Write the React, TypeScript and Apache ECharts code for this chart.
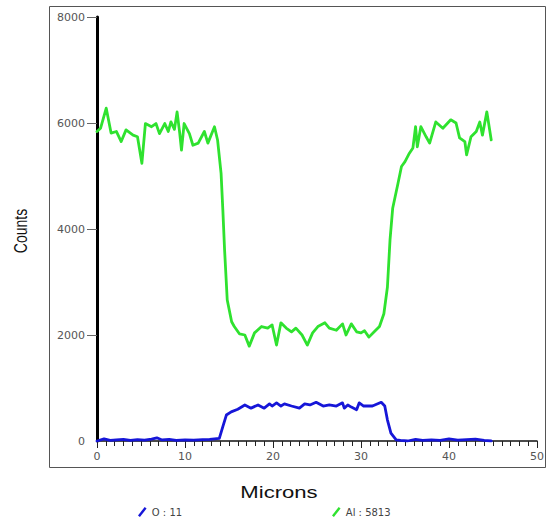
import React, { useEffect, useRef } from "react";
import * as echarts from "echarts";

const xTicks = [0, 10, 20, 30, 40, 50];
const yTicks = [0, 2000, 4000, 6000, 8000];

const alName = "Al : 5813";
const oName = "O : 11";

const alX = [0.0, 0.4, 1.05, 1.6, 2.2, 2.75, 3.3, 4.1, 4.6, 5.1, 5.5, 6.2, 6.7, 7.1, 7.7, 8.1, 8.4, 8.8, 9.1, 9.4, 9.6, 9.9, 10.5, 10.9, 11.5, 12.2, 12.6, 13.35, 13.7, 14.1, 14.3, 14.5, 14.8, 15.3, 15.6, 16.2, 16.8, 17.3, 17.9, 18.7, 19.4, 19.9, 20.4, 20.9, 21.5, 22.1, 22.6, 23.3, 23.9, 24.5, 25.1, 25.9, 26.4, 27.2, 27.9, 28.3, 28.9, 29.5, 30.0, 30.4, 30.9, 31.5, 32.1, 32.6, 33.0, 33.3, 33.6, 34.2, 34.6, 35.0, 35.5, 35.9, 36.2, 36.4, 36.8, 37.4, 37.8, 38.5, 39.3, 40.2, 40.8, 41.2, 41.8, 42.0, 42.5, 43.1, 43.5, 43.8, 44.3, 44.8];
const alY = [5840, 5900, 6280, 5810, 5840, 5650, 5870, 5770, 5740, 5240, 5990, 5930, 5990, 5800, 5990, 5840, 6020, 5880, 6210, 5810, 5490, 5990, 5800, 5580, 5620, 5840, 5620, 5930, 5680, 5050, 4360, 3600, 2660, 2250, 2160, 2020, 2000, 1790, 2040, 2160, 2130, 2190, 1810, 2230, 2130, 2060, 2130, 2000, 1810, 2040, 2160, 2230, 2130, 2090, 2210, 2000, 2210, 2060, 2040, 2080, 1960, 2060, 2160, 2400, 2900, 3800, 4390, 4860, 5180, 5270, 5430, 5530, 5930, 5550, 5930, 5740, 5620, 6020, 5900, 6060, 6000, 5720, 5650, 5400, 5740, 5840, 6020, 5770, 6210, 5680];

const oX = [0.0, 0.8, 1.5, 2.2, 3.0, 3.8, 4.6, 5.4, 6.2, 6.8, 7.4, 8.2, 9.0, 10.0, 11.0, 12.0, 12.8, 13.9, 14.3, 14.7, 15.25, 16.0, 16.8, 17.5, 18.3, 19.0, 19.6, 19.9, 20.4, 20.9, 21.3, 22.1, 23.0, 23.6, 24.2, 24.9, 25.7, 26.4, 27.2, 27.9, 28.1, 28.5, 28.9, 29.5, 29.8, 30.3, 31.3, 32.3, 32.7, 33.0, 33.4, 34.0, 34.5, 35.3, 36.2, 37.0, 38.0, 39.0, 40.0, 41.0, 42.0, 43.0, 44.0, 44.8];
const oY = [0, 40, 10, 20, 30, 10, 25, 15, 35, 60, 20, 30, 10, 20, 15, 25, 30, 50, 270, 490, 550, 600, 680, 620, 680, 620, 700, 660, 720, 660, 700, 660, 620, 700, 680, 730, 660, 680, 660, 720, 620, 680, 640, 590, 720, 660, 660, 730, 660, 400, 150, 20, 10, 0, 30, 10, 20, 10, 40, 15, 25, 35, 10, 0];

const pairs = (xs: number[], ys: number[]) => xs.map((x, i) => [x, ys[i]]);

const legendIcon = "path://M0,9L7,0L9,1.5L2,10.5Z";

export default function App() {
  const ref = useRef<HTMLDivElement>(null);
  useEffect(() => {
    if (!ref.current) return;
    const chart = echarts.init(ref.current, null, { renderer: "svg" });
    const labelStyle = { color: "#555", fontSize: 11, fontFamily: "DejaVu Sans" };
    const legendText = { color: "#444", fontSize: 10, fontFamily: "DejaVu Sans" };
    chart.setOption({
      animation: false,
      backgroundColor: "#ffffff",
      grid: { left: 97, right: 12, top: 17, bottom: 81, containLabel: false },
      xAxis: {
        type: "value",
        min: xTicks[0],
        max: xTicks[xTicks.length - 1],
        interval: 10,
        axisLine: { show: true, onZero: false, lineStyle: { color: "#111", width: 1.5 } },
        axisTick: { show: true, inside: false, length: 7, lineStyle: { color: "#222", width: 1 } },
        minorTick: { show: true, splitNumber: 10, length: 5, lineStyle: { color: "#222", width: 1 } },
        axisLabel: { ...labelStyle, margin: 10, formatter: (v: number) => String(v) },
        splitLine: { show: false },
      },
      yAxis: {
        type: "value",
        min: yTicks[0],
        max: yTicks[yTicks.length - 1],
        interval: 2000,
        axisLine: { show: true, onZero: false, lineStyle: { color: "#000", width: 3 } },
        axisTick: { show: true, length: 10, customValues: yTicks.slice(1), lineStyle: { color: "#666", width: 1 } },
        axisLabel: { ...labelStyle, margin: 12, formatter: (v: number) => String(v) },
        splitLine: { show: false },
      },
      legend: [
        {
          data: [{ name: oName, icon: legendIcon, textStyle: legendText }],
          left: 133,
          top: 502,
          itemWidth: 9,
          itemHeight: 10,
          itemGap: 4,
          textStyle: legendText,
        },
        {
          data: [{ name: alName, icon: legendIcon, textStyle: legendText }],
          left: 327,
          top: 502,
          itemWidth: 9,
          itemHeight: 10,
          itemGap: 4,
          textStyle: legendText,
        },
      ],
      graphic: [
        {
          type: "rect",
          shape: { x: 49.5, y: 6.5, width: 496, height: 461 },
          style: { fill: "none", stroke: "#555", lineWidth: 1 },
          silent: true,
        },
        {
          type: "text",
          x: 279,
          y: 492,
          scaleX: 1.3,
          style: {
            text: "Microns",
            fontSize: 17,
            fontFamily: "Liberation Sans",
            fill: "#111",
            textAlign: "center",
            textVerticalAlign: "middle",
          },
        },
        {
          type: "text",
          x: 20,
          y: 231,
          rotation: Math.PI / 2,
          scaleY: 1.3,
          style: {
            text: "Counts",
            fontSize: 14,
            fontFamily: "Liberation Sans",
            fill: "#111",
            textAlign: "center",
            textVerticalAlign: "middle",
          },
        },
      ],
      series: [
        {
          name: oName,
          type: "line",
          data: pairs(oX, oY),
          symbol: "none",
          color: "#1616d8",
          lineStyle: { color: "#1616d8", width: 2.8, join: "round", cap: "round" },
        },
        {
          name: alName,
          type: "line",
          data: pairs(alX, alY),
          symbol: "none",
          color: "#2fe22f",
          lineStyle: { color: "#2fe22f", width: 2.8, join: "round", cap: "round" },
        },
      ],
    });
    return () => chart.dispose();
  }, []);
  return (
    <div
      ref={ref}
      style={{ position: "fixed", left: 0, top: 0, width: 549, height: 522 }}
    />
  );
}
